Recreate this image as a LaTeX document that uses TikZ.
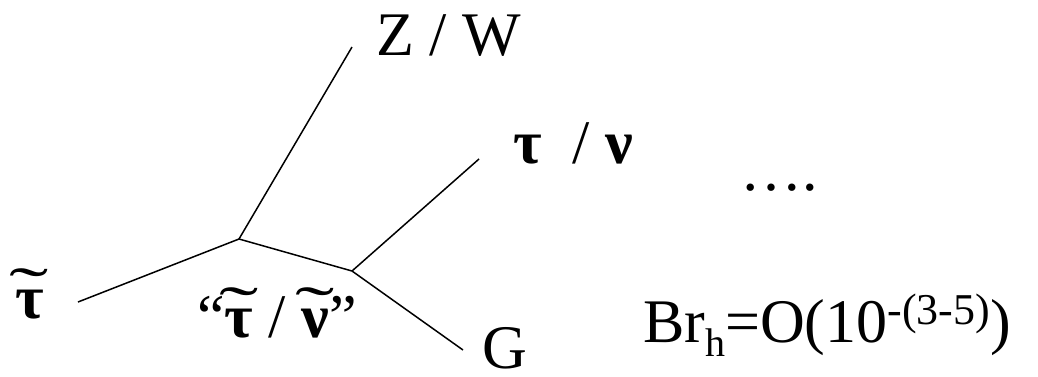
\documentclass[tikz,border=0pt]{standalone}
\usepackage{graphicx}
\usepackage{fontspec}
\setmainfont{Liberation Serif}
\newcommand{\gk}[1]{\textbf{#1}}
\newcommand{\sq}[1]{\ooalign{#1\cr\hidewidth\raisebox{0.12em}{\scalebox{1.9}[1]{˜}}\hidewidth\cr}}

\begin{document}
\begin{tikzpicture}[
    x=1pt, y=-1pt,
    % labels sit on their baseline
    lbl/.style={
        anchor=base west,
        inner sep=0pt,
        font=\fontsize{62}{70}\selectfont
    },
    leg/.style={line width=1.5pt}
]
    \useasboundingbox (0,0) rectangle (1038,376);

    % vertices and free ends of the lines
    \coordinate (vtxA) at (239,239);
    \coordinate (vtxB) at (352,271);
    \coordinate (endIn) at (78,302);
    \coordinate (endZW) at (352,47);
    \coordinate (endTau) at (479,159);
    \coordinate (endG) at (463,350);

    \draw[leg] (endIn) -- (vtxA) -- (vtxB) -- (endG);
    \draw[leg] (vtxA) -- (endZW);
    \draw[leg] (vtxB) -- (endTau);

    % particle labels
    \node(stauIn)[lbl] at (15,318) {\sq{\gk{τ}}};
    \node(zw)[lbl] at (376,55) {Z / W};
    \node(taunu)[lbl] at (513,163) {\gk{τ}\hspace{0.5em}/ \gk{ν}};
    \node(mid)[lbl] at (197,337) {“\sq{\gk{τ}} / \sq{\gk{ν}}”};
    \node(grav)[lbl] at (482,368) {G};
    \node(dots)[lbl] at (740,190) {….};

    % branching ratio
    \node(brh)[lbl] at (643,342) {Br\raisebox{-0.24em}{\fontsize{40}{44}\selectfont h}=O(10\raisebox{18pt}{\fontsize{44}{48}\selectfont -(3-5)})};
\end{tikzpicture}
\end{document}
